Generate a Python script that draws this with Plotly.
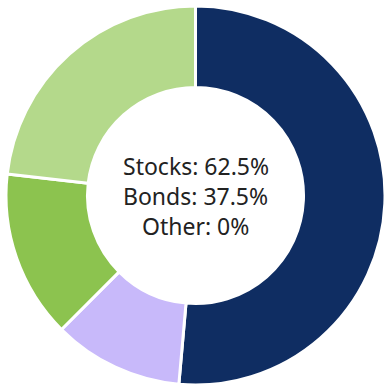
import plotly.graph_objects as go

labels = ["Stocks A", "Stocks B", "Bonds A", "Bonds B"]
values = [51.4, 11.1, 14.3, 23.2]
colors = ["#0f2d62", "#c8b9fa", "#8cc34f", "#b4d98b"]
center_lines = ["Stocks: 62.5%", "Bonds: 37.5%", "Other: 0%"]

fig = go.Figure(go.Pie(
    labels=labels, values=values, hole=0.57, sort=False,
    direction="clockwise", rotation=0,
    marker=dict(colors=colors, line=dict(color="white", width=3)),
    textinfo="none", showlegend=False,
))
for i, line in enumerate(center_lines):
    fig.add_annotation(text=line, x=0.5, y=0.5, yanchor="middle",
                       xref="paper", yref="paper", showarrow=False,
                       yshift=30 - 30 * i,
                       font=dict(family="Noto Sans", size=23, color="#222222"))
fig.update_layout(width=385, height=391, margin=dict(l=6, r=0, t=0, b=0),
                  paper_bgcolor="white", plot_bgcolor="white")
fig.write_html("out.html")
